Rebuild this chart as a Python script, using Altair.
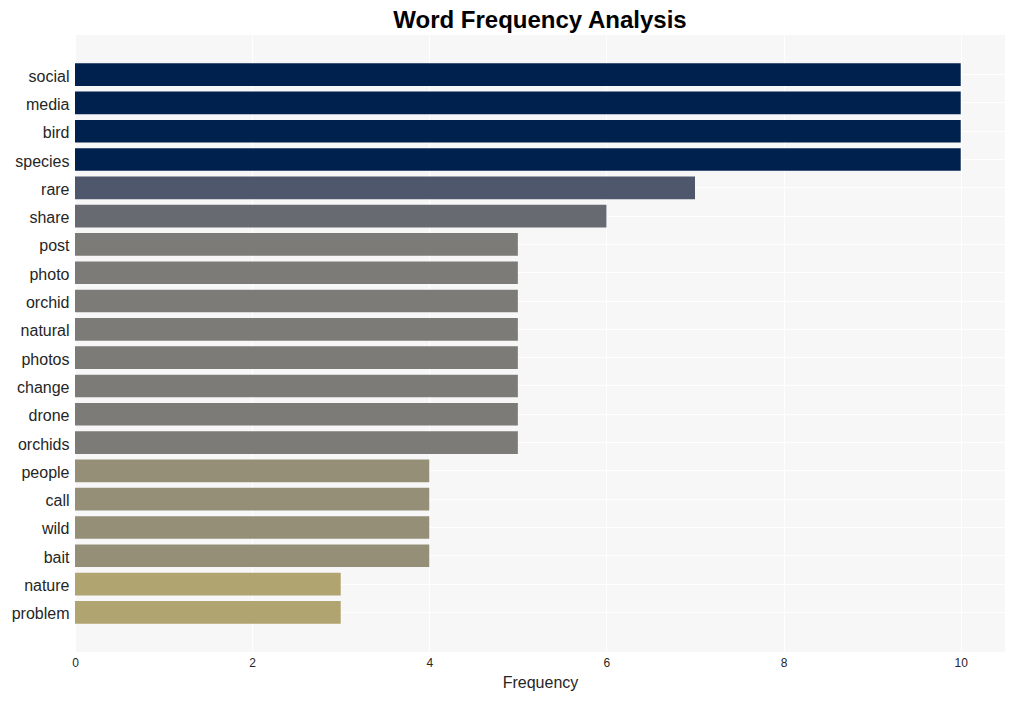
import altair as alt
import pandas as pd

words = ["social", "media", "bird", "species", "rare", "share", "post", "photo",
         "orchid", "natural", "photos", "change", "drone", "orchids", "people",
         "call", "wild", "bait", "nature", "problem"]
freqs = [10, 10, 10, 10, 7, 6, 5, 5, 5, 5, 5, 5, 5, 5, 4, 4, 4, 4, 3, 3]
color_levels = [3, 4, 5, 6, 7, 10]
color_values = ["#b0a470", "#958f78", "#7c7b78", "#686a71", "#4f576d", "#00214e"]

df = pd.DataFrame({"word": words, "freq": freqs})

chart = alt.Chart(df).mark_bar().encode(
    y=alt.Y("word:N", sort=words, title=None,
            scale=alt.Scale(paddingInner=0.2, paddingOuter=1.0),
            axis=alt.Axis(labelFontSize=16, labelColor="#262626", labelPadding=6,
                          labelOffset=2,
                          ticks=False, domain=False, grid=True, gridColor="#ffffff",
                          gridWidth=1, bandPosition=0.5, labelFont="Liberation Sans")),
    x=alt.X("freq:Q", title="Frequency",
            scale=alt.Scale(domain=[0, 10.5], nice=False),
            axis=alt.Axis(values=[0, 2, 4, 6, 8, 10], labelFontSize=12, labelColor="#262626",
                          labelFlush=False,
                          titleFontSize=16, titleFontWeight="normal", titleColor="#262626",
                          ticks=False, domain=False, grid=True, gridColor="#ffffff",
                          gridWidth=1, labelPadding=5, titlePadding=6,
                          labelFont="Liberation Sans", titleFont="Liberation Sans")),
    color=alt.Color("freq:O", legend=None,
                    scale=alt.Scale(domain=color_levels, range=color_values)),
).properties(
    width=930,
    height=617,
    title=alt.TitleParams("Word Frequency Analysis", fontSize=24, fontWeight="bold",
                          font="Liberation Sans", color="#000000", anchor="middle", offset=2),
    autosize=alt.AutoSizeParams(type="none"),
    padding={"left": 67, "top": 27, "right": 2, "bottom": 41},
).configure_view(
    fill="#f7f7f7", stroke=None
)

chart.save("out.html", embed_options={"renderer": "svg", "actions": False})
